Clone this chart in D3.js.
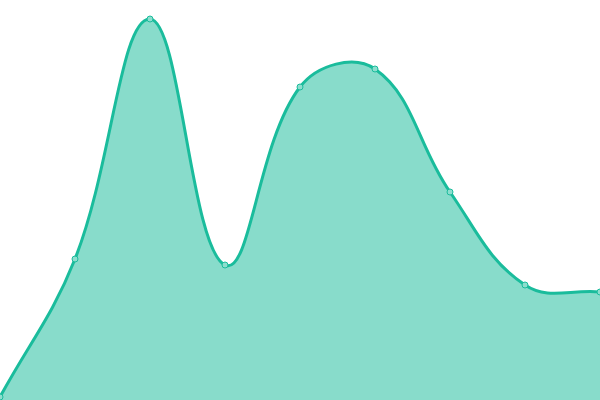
<!DOCTYPE html>
<html>
<head>
<meta charset="utf-8">
<script src="https://cdn.jsdelivr.net/npm/d3@7"></script>
<style>
  html, body { margin: 0; padding: 0; background: #fff; }
  svg { display: block; }
</style>
</head>
<body>
<div id="chart"></div>
<script>
// point positions along x (index) and values
var labels = [0, 1, 2, 3, 4, 5, 6, 7, 8];
var values = [3, 141, 381, 135, 313, 331, 208, 115, 108];

var width = 600,
	height = 400;

var x = d3.scaleLinear()
	.domain([0, labels.length - 1])
	.range([0, width]);

var y = d3.scaleLinear()
	.domain([0, 400])
	.range([height, 0]);

// spline with distance weighted tangents (tension 0.4)
function SplineCurve(context) { this._context = context; }
SplineCurve.prototype = {
	areaStart: function() { this._line = 0; },
	areaEnd: function() { this._line = NaN; },
	lineStart: function() { this._x = []; this._y = []; },
	point: function(x, y) { this._x.push(+x); this._y.push(+y); },
	lineEnd: function() {
		var xs = this._x, ys = this._y, n = xs.length, t = 0.4;
		if (n) {
			this._line ? this._context.lineTo(xs[0], ys[0]) : this._context.moveTo(xs[0], ys[0]);
			if (n > 2) {
				var cp = [];
				for (var i = 0; i < n; i++) {
					var p = i > 0 ? i - 1 : i, q = i < n - 1 ? i + 1 : i;
					var d01 = Math.hypot(xs[i] - xs[p], ys[i] - ys[p]),
						d12 = Math.hypot(xs[q] - xs[i], ys[q] - ys[i]);
					var s01 = d01 / (d01 + d12), s12 = d12 / (d01 + d12);
					if (isNaN(s01)) s01 = 0;
					if (isNaN(s12)) s12 = 0;
					var fa = t * s01, fb = t * s12;
					cp.push({
						px: xs[i] - fa * (xs[q] - xs[p]), py: ys[i] - fa * (ys[q] - ys[p]),
						nx: xs[i] + fb * (xs[q] - xs[p]), ny: ys[i] + fb * (ys[q] - ys[p])
					});
				}
				for (var j = 1; j < n; j++) {
					this._context.bezierCurveTo(cp[j - 1].nx, cp[j - 1].ny, cp[j].px, cp[j].py, xs[j], ys[j]);
				}
			} else {
				for (var k = 1; k < n; k++) this._context.lineTo(xs[k], ys[k]);
			}
		}
		if (this._line || (this._line !== 0 && n === 1)) this._context.closePath();
		this._line = 1 - this._line;
	}
};
var curve = function(context) { return new SplineCurve(context); };

var svg = d3.select("#chart")
	.append("svg")
	.attr("width", width)
	.attr("height", height);

var data = labels.map(function(d, i) { return {x: d, y: values[i]}; });

var area = d3.area()
	.x(function(d) { return x(d.x); })
	.y0(height)
	.y1(function(d) { return y(d.y); })
	.curve(curve);

var line = d3.line()
	.x(function(d) { return x(d.x); })
	.y(function(d) { return y(d.y); })
	.curve(curve);

svg.append("path")
	.datum(data)
	.attr("d", area)
	.attr("fill", "#1abc9c")
	.attr("fill-opacity", 0.52);

svg.append("path")
	.datum(data)
	.attr("d", line)
	.attr("fill", "none")
	.attr("stroke", "#1abc9c")
	.attr("stroke-width", 3);

svg.selectAll("circle")
	.data(data)
	.enter()
	.append("circle")
	.attr("cx", function(d) { return x(d.x); })
	.attr("cy", function(d) { return y(d.y); })
	.attr("r", 3)
	.attr("fill", "#8ddece")
	.attr("stroke", "#1abc9c")
	.attr("stroke-width", 1);
</script>
</body>
</html>
